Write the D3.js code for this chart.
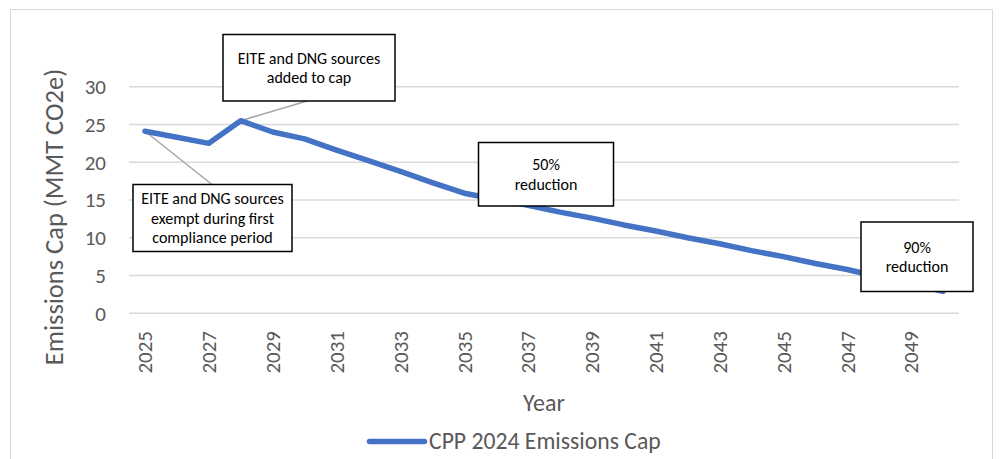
<!DOCTYPE html>
<html>
<head>
<meta charset="utf-8">
<script src="https://cdn.jsdelivr.net/npm/d3@7"></script>
<style>
  body { margin: 0; background: #fff; }
  text { font-family: Carlito, Lato, "Open Sans", sans-serif; }
</style>
</head>
<body>
<svg width="999" height="459"></svg>
<script>
// data
var years = [2025, 2026, 2027, 2028, 2029, 2030, 2031, 2032, 2033, 2034, 2035, 2036, 2037,
  2038, 2039, 2040, 2041, 2042, 2043, 2044, 2045, 2046, 2047, 2048, 2049, 2050];
var cap = [24.1, 23.3, 22.5, 25.5, 24.0, 23.1, 21.6, 20.2, 18.8, 17.3, 15.9, 15.1, 14.3,
  13.4, 12.6, 11.7, 10.9, 10.0, 9.2, 8.3, 7.5, 6.6, 5.8, 4.8, 3.9, 2.9];
var yTicks = [0, 5, 10, 15, 20, 25, 30];
var seriesName = "CPP 2024 Emissions Cap";

var notes = [
  { lines: ["EITE and DNG sources", "added to cap"], year: 2028 },
  { lines: ["EITE and DNG sources", "exempt during first", "compliance period"], year: 2025 },
  { lines: ["50%", "reduction"], year: null },
  { lines: ["90%", "reduction"], year: null }
];
// box layout in pixels (x, y, w, h) and where the connector meets the box
var noteBoxes = [
  { x: 223, y: 34.5, w: 172, h: 66.5, lx: 307, ly: 101 },
  { x: 133, y: 184.5, w: 159, h: 67, lx: 212, ly: 184.5 },
  { x: 478.5, y: 142.5, w: 135, h: 63.5 },
  { x: 861, y: 222, w: 112, h: 69.5 }
];

var svg = d3.select("svg"),
  width = +svg.attr("width"),
  height = +svg.attr("height");

var x = d3.scaleBand().domain(years).range([129, 959]);
var y = d3.scaleLinear().domain([0, 30]).range([313.3, 86.7]);
var cx = function (yr) { return x(yr) + x.bandwidth() / 2; };

// outer chart border
svg.append("rect")
  .attr("x", 10.5).attr("y", 9.5)
  .attr("width", 982).attr("height", 470)
  .attr("fill", "none")
  .attr("stroke", "#d9d9d9")
  .attr("stroke-width", 1);

// gridlines
svg.append("g")
  .selectAll("line")
  .data(yTicks)
  .enter()
  .append("line")
  .attr("x1", 129).attr("x2", 959)
  .attr("y1", function (d) { return y(d); })
  .attr("y2", function (d) { return y(d); })
  .attr("stroke", "#d9d9d9")
  .attr("stroke-width", 1.5);

// y tick labels
svg.append("g")
  .selectAll("text")
  .data(yTicks)
  .enter()
  .append("text")
  .attr("x", 106)
  .attr("y", function (d) { return y(d); })
  .attr("dy", "0.35em")
  .attr("text-anchor", "end")
  .style("font-size", "21px")
  .style("fill", "#595959")
  .text(function (d) { return d; });

// x tick labels, every other year
svg.append("g")
  .selectAll("text")
  .data(years.filter(function (d, i) { return i % 2 === 0; }))
  .enter()
  .append("text")
  .attr("transform", function (d) { return "translate(" + cx(d) + ",331) rotate(-90)"; })
  .attr("dy", "0.35em")
  .attr("text-anchor", "end")
  .style("font-size", "21px")
  .style("fill", "#595959")
  .text(function (d) { return d; });

// axis titles
svg.append("text")
  .attr("transform", "translate(63,217) rotate(-90)")
  .attr("text-anchor", "middle")
  .style("font-size", "26.5px")
  .style("fill", "#595959")
  .text("Emissions Cap (MMT CO2e)");

svg.append("text")
  .attr("x", 544)
  .attr("y", 410.5)
  .attr("text-anchor", "middle")
  .style("font-size", "24px")
  .style("fill", "#595959")
  .text("Year");

// connectors
notes.forEach(function (n, i) {
  var b = noteBoxes[i];
  if (n.year === null) return;
  svg.append("line")
    .attr("x1", cx(n.year))
    .attr("y1", y(cap[years.indexOf(n.year)]))
    .attr("x2", b.lx)
    .attr("y2", b.ly)
    .attr("stroke", "#a5a5a5")
    .attr("stroke-width", 1.5);
});

// series line
var line = d3.line()
  .x(function (d, i) { return cx(years[i]); })
  .y(function (d) { return y(d); });

svg.append("path")
  .datum(cap)
  .attr("d", line)
  .attr("fill", "none")
  .attr("stroke", "#4472c4")
  .attr("stroke-width", 5.5)
  .attr("stroke-linejoin", "round")
  .attr("stroke-linecap", "round");

// annotation boxes
notes.forEach(function (n, i) {
  var b = noteBoxes[i];
  var g = svg.append("g");
  g.append("rect")
    .attr("x", b.x).attr("y", b.y)
    .attr("width", b.w).attr("height", b.h)
    .attr("fill", "#fff")
    .attr("stroke", "#000")
    .attr("stroke-width", 1.5);
  var lh = 19.5;
  var top = b.y + b.h / 2 - (n.lines.length - 1) * lh / 2;
  g.selectAll("text")
    .data(n.lines)
    .enter()
    .append("text")
    .attr("x", b.x + b.w / 2)
    .attr("y", function (d, j) { return top + j * lh; })
    .attr("dy", "0.35em")
    .attr("text-anchor", "middle")
    .style("font-size", "16px")
    .style("fill", "#000")
    .text(function (d) { return d; });
});

// legend
svg.append("line")
  .attr("x1", 369.5).attr("x2", 424.5)
  .attr("y1", 441.5).attr("y2", 441.5)
  .attr("stroke", "#4472c4")
  .attr("stroke-width", 5.5)
  .attr("stroke-linecap", "round");

svg.append("text")
  .attr("x", 429)
  .attr("y", 449)
  .style("font-size", "23.7px")
  .style("fill", "#595959")
  .text(seriesName);
</script>
</body>
</html>
